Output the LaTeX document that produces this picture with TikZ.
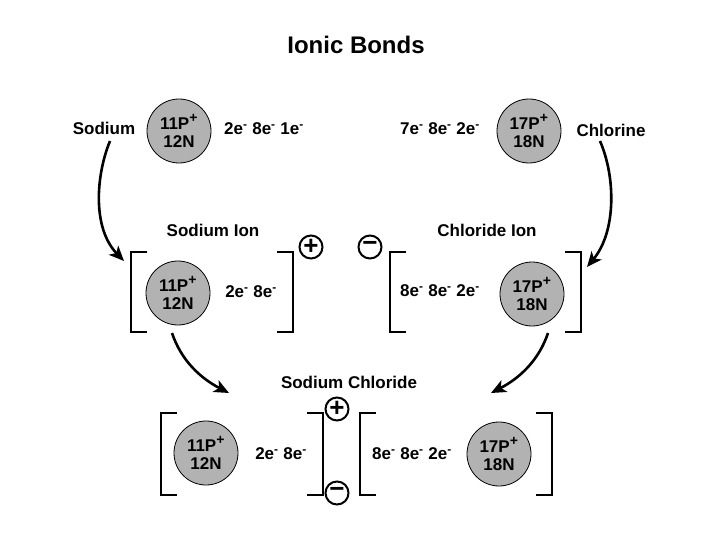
\documentclass[tikz,border=0pt]{standalone}
\usepackage{fontspec}
\setmainfont{Liberation Sans}
\usetikzlibrary{arrows.meta}
\newcommand{\elec}{e\textsuperscript{-}}
\newcommand{\pplus}{\textsuperscript{\fontsize{14}{14}\selectfont+}}
\begin{document}
\begin{tikzpicture}[x=1pt,y=-1pt,
  lbl/.style={font=\fontsize{17}{17}\selectfont\bfseries, inner sep=0pt},
  atom/.style={circle, draw=black, line width=0.8pt, fill=black!30, minimum size=64pt, inner sep=0pt, align=center, font=\fontsize{17}{18}\selectfont\bfseries},
  chg/.style={circle, draw=black, line width=2pt, minimum size=23pt, inner sep=0pt, font=\fontsize{26}{26}\selectfont\bfseries},
  brk/.style={line width=1.3pt},
  arr/.style={line width=2.6pt, -{Stealth[length=15pt,width=13pt,inset=4pt]}}
]
\useasboundingbox (0,0) rectangle (720,540);

\node[lbl, font=\fontsize{24}{24}\selectfont\bfseries] (title) at (356,45) {Ionic Bonds};

% top row
\node[atom] (na) at (179,131) {11P\pplus\\12N};
\node[lbl] (nalbl) at (104,128) {Sodium};
\node[lbl] (nae) at (264,129) {2\elec{} 8\elec{} 1\elec};
\node[atom] (cl) at (529,131) {17P\pplus\\18N};
\node[lbl] (cllbl) at (611,130) {Chlorine};
\node[lbl] (cle) at (440,129) {7\elec{} 8\elec{} 2\elec};

% ion row
\node[lbl] (naionlbl) at (213,230) {Sodium Ion};
\node[lbl] (clionlbl) at (487,230) {Chloride Ion};
\node[atom] (naion) at (178,293) {11P\pplus\\12N};
\node[lbl] (naione) at (251,292) {2\elec{} 8\elec};
\node[atom] (clion) at (532,294) {17P\pplus\\18N};
\node[lbl] (clione) at (440,291) {8\elec{} 8\elec{} 2\elec};
\node[chg] (plus1) at (311,247) {\raisebox{0.5pt}{+}};
\node[chg] (minus1) at (370,247) {\raisebox{1.5pt}{−}};
\draw[brk] (147,252) -- (131,252) -- (131,332) -- (147,332);
\draw[brk] (277,252) -- (293,252) -- (293,332) -- (277,332);
\draw[brk] (406,252) -- (390,252) -- (390,332) -- (406,332);
\draw[brk] (565,252) -- (581,252) -- (581,332) -- (565,332);

% NaCl row
\node[lbl] (nacllbl) at (349,382) {Sodium Chloride};
\node[atom] (naB) at (206,453) {11P\pplus\\12N};
\node[lbl] (naBe) at (281,454) {2\elec{} 8\elec};
\node[atom] (clB) at (499,454) {17P\pplus\\18N};
\node[lbl] (clBe) at (412,454) {8\elec{} 8\elec{} 2\elec};
\node[chg] (plus2) at (337,409) {\raisebox{0.5pt}{+}};
\node[chg] (minus2) at (337,493) {\raisebox{1.5pt}{−}};
\draw[brk] (177,413) -- (161,413) -- (161,495) -- (177,495);
\draw[brk] (307,413) -- (323,413) -- (323,495) -- (307,495);
\draw[brk] (376,413) -- (360,413) -- (360,495) -- (376,495);
\draw[brk] (536,413) -- (552,413) -- (552,495) -- (536,495);

% arrows
\coordinate (a1s) at (110,141);
\coordinate (a1e) at (124,261);
\coordinate (a2s) at (600,141);
\coordinate (a2e) at (587,267);
\coordinate (a3s) at (172,333);
\coordinate (a3e) at (229,393);
\coordinate (a4s) at (548,333);
\coordinate (a4e) at (491,393);
\draw[arr] (a1s) .. controls (96,175) and (92,228) .. (a1e);
\draw[arr] (a2s) .. controls (616,178) and (616,232) .. (a2e);
\draw[arr] (a3s) .. controls (181,360) and (200,378) .. (a3e);
\draw[arr] (a4s) .. controls (539,360) and (520,378) .. (a4e);
\end{tikzpicture}
\end{document}
